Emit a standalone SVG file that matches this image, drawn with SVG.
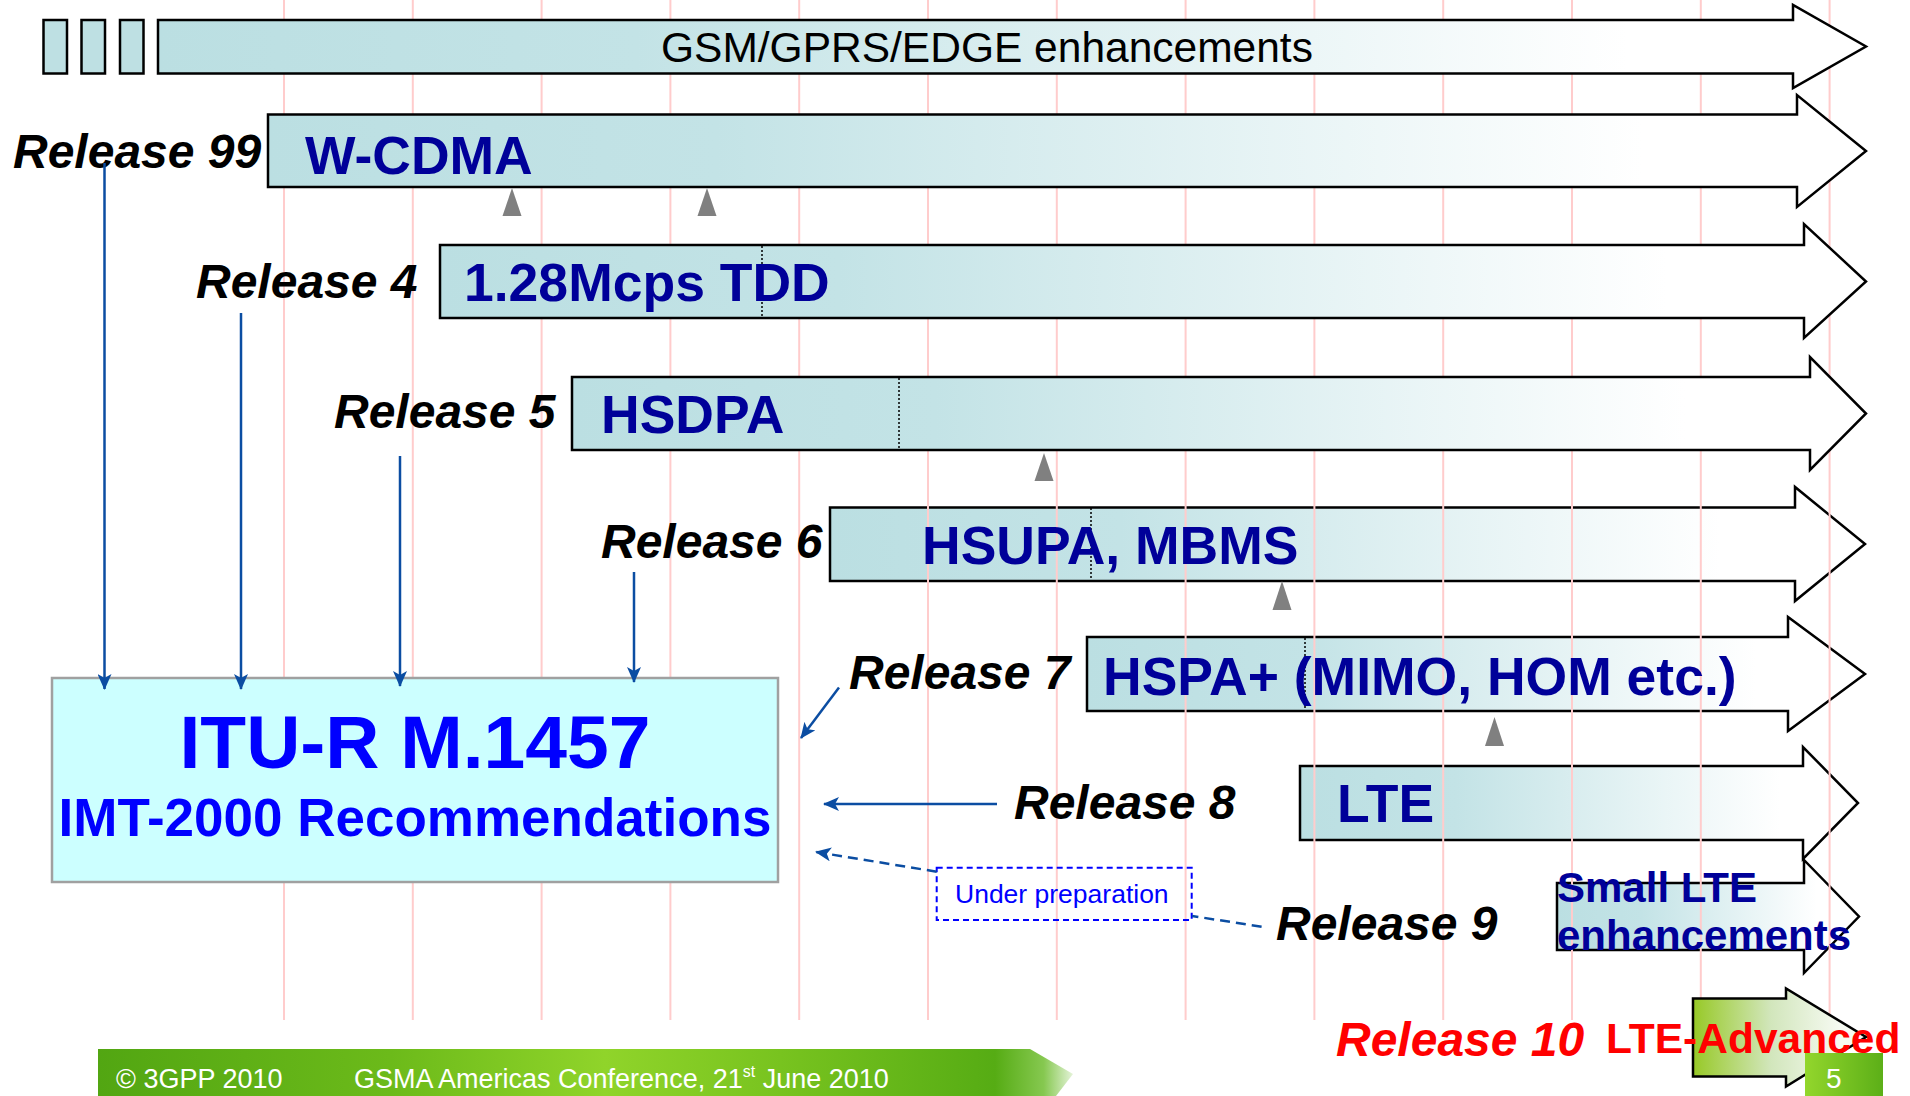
<svg xmlns="http://www.w3.org/2000/svg" width="1910" height="1096" viewBox="0 0 1910 1096">
  <defs>
    <linearGradient id="laneFill" x1="0" y1="0" x2="1" y2="0">
      <stop offset="0" stop-color="#BBDFE2"/>
      <stop offset="0.28" stop-color="#C3E3E6"/>
      <stop offset="0.86" stop-color="#FFFFFF"/>
      <stop offset="1" stop-color="#FFFFFF"/>
    </linearGradient>
    <linearGradient id="advFill" x1="0" y1="0" x2="1" y2="0">
      <stop offset="0" stop-color="#97C926"/>
      <stop offset="0.45" stop-color="#D2E6BC"/>
      <stop offset="0.85" stop-color="#F6FAF2"/>
    </linearGradient>
    <linearGradient id="footFill" x1="0" y1="0" x2="1" y2="0">
      <stop offset="0" stop-color="#52A612"/>
      <stop offset="0.3" stop-color="#6CBA1A"/>
      <stop offset="0.52" stop-color="#90D42A"/>
      <stop offset="0.7" stop-color="#78C31F"/>
      <stop offset="0.92" stop-color="#56AC14"/>
      <stop offset="0.97" stop-color="#86C850"/>
      <stop offset="1" stop-color="#E4F3D8"/>
    </linearGradient>
    <linearGradient id="pageFill" x1="0" y1="0" x2="1" y2="0">
      <stop offset="0" stop-color="#93D62C"/>
      <stop offset="1" stop-color="#5CAF18"/>
    </linearGradient>
    <marker id="head" viewBox="0 0 16 14" refX="15" refY="7" markerWidth="16" markerHeight="14" markerUnits="userSpaceOnUse" orient="auto">
      <path d="M0,0 L16,7 L0,14 L4,7 Z" fill="#0B4DA2"/>
    </marker>
    <style>
      .lane { fill: url(#laneFill); stroke: #000; stroke-width: 2.5; }
      .feat { font-family: "Liberation Sans", Arial, sans-serif; font-weight: bold; font-size: 53.5px; fill: #000099; }
      .small { font-size: 42px; }
      .rel { font-family: "Liberation Sans", Arial, sans-serif; font-weight: bold; font-style: italic; font-size: 48px; fill: #000; }
      .grid line { stroke: #FFCCCC; stroke-width: 2; }
      .tick { fill: #808080; }
      .conn { stroke: #0B4DA2; stroke-width: 2.5; fill: none; }
      .dash { stroke-dasharray: 10 6; }
      .split { stroke: #000; stroke-width: 1.5; stroke-dasharray: 2 2; }
      .foot { font-family: "Liberation Sans", Arial, sans-serif; font-size: 27px; fill: #fff; }
    </style>
  </defs>

  <rect width="1910" height="1096" fill="#fff"/>

  <!-- later release lanes: the timeline grid is laid over these shapes -->
  <g id="rel6">
    <polygon class="lane" points="830,507.5 1795,507.5 1795,487 1865,544 1795,601 1795,581 830,581"/>
    <line class="split" x1="1091" y1="508" x2="1091" y2="580"/>
  </g>
  <g id="rel7">
    <polygon class="lane" points="1087,637 1788,637 1788,617 1865,674 1788,731 1788,711 1087,711"/>
    <line class="split" x1="1305" y1="638" x2="1305" y2="710"/>
  </g>
  <g id="rel8">
    <polygon class="lane" points="1300,766 1803,766 1803,747 1858,803 1803,859 1803,840 1300,840"/>
  </g>
  <g id="rel9">
    <polygon class="lane" points="1557,883 1804,883 1804,860 1859,916.5 1804,973 1804,950 1557,950"/>
  </g>

  <!-- timeline grid -->
  <g class="grid" id="grid">
    <line x1="284" y1="0" x2="284" y2="1020"/>
    <line x1="412.8" y1="0" x2="412.8" y2="1020"/>
    <line x1="541.6" y1="0" x2="541.6" y2="1020"/>
    <line x1="670.4" y1="0" x2="670.4" y2="1020"/>
    <line x1="799.2" y1="0" x2="799.2" y2="1020"/>
    <line x1="928" y1="0" x2="928" y2="1020"/>
    <line x1="1056.8" y1="0" x2="1056.8" y2="1020"/>
    <line x1="1185.6" y1="0" x2="1185.6" y2="1020"/>
    <line x1="1314.4" y1="0" x2="1314.4" y2="1020"/>
    <line x1="1443.2" y1="0" x2="1443.2" y2="1020"/>
    <line x1="1572" y1="0" x2="1572" y2="1020"/>
    <line x1="1700.8" y1="0" x2="1700.8" y2="1020"/>
    <line x1="1829.6" y1="0" x2="1829.6" y2="1020"/>
  </g>

  <!-- feature names of the later lanes, above the grid -->
  <g id="rel6-text"><text class="feat" x="922" y="564">HSUPA, MBMS</text></g>
  <g id="rel7-text"><text class="feat" x="1103" y="695">HSPA+ (MIMO, HOM etc.)</text></g>
  <g id="rel8-text"><text class="feat" x="1337" y="822">LTE</text></g>
  <g id="rel9-text">
    <text class="feat small" x="1557" y="902">Small LTE</text>
    <text class="feat small" x="1557" y="950">enhancements</text>
  </g>

  <!-- GSM lane with the three earlier blocks -->
  <g id="gsm">
    <rect x="43.5" y="20" width="23.5" height="53.5" fill="#BEE0E3" stroke="#000" stroke-width="2.5"/>
    <rect x="81.5" y="20" width="23.5" height="53.5" fill="#BEE0E3" stroke="#000" stroke-width="2.5"/>
    <rect x="120" y="20" width="23.5" height="53.5" fill="#BEE0E3" stroke="#000" stroke-width="2.5"/>
    <polygon class="lane" points="158,20 1793,20 1793,5 1866,46.5 1793,88 1793,73.5 158,73.5"/>
    <text x="661" y="62" font-family="Liberation Sans, Arial, sans-serif" font-size="42.5" fill="#000">GSM/GPRS/EDGE enhancements</text>
  </g>

  <g id="rel99">
    <polygon class="lane" points="268,114.5 1797,114.5 1797,95 1866,151 1797,207 1797,187 268,187"/>
    <text class="feat" x="305" y="174">W-CDMA</text>
  </g>
  <g id="rel4">
    <polygon class="lane" points="440,245 1804,245 1804,224 1866,281.5 1804,338 1804,318 440,318"/>
    <line class="split" x1="762" y1="246" x2="762" y2="317"/>
    <text class="feat" x="464" y="301">1.28Mcps TDD</text>
  </g>
  <g id="rel5">
    <polygon class="lane" points="572,377 1810,377 1810,357 1866,413.5 1810,470 1810,450 572,450"/>
    <line class="split" x1="899" y1="378" x2="899" y2="449"/>
    <text class="feat" x="601" y="433">HSDPA</text>
  </g>

  <!-- completion markers -->
  <g id="ticks">
    <path class="tick" d="M502.5,216 L512,188 L521.5,216 Z"/>
    <path class="tick" d="M697.5,216 L707,188 L716.5,216 Z"/>
    <path class="tick" d="M1034.5,481 L1044,453 L1053.5,481 Z"/>
    <path class="tick" d="M1272.5,610 L1282,581 L1291.5,610 Z"/>
    <path class="tick" d="M1485,746 L1494.5,717 L1504,746 Z"/>
  </g>

  <!-- release labels -->
  <g id="labels">
    <text class="rel" x="13" y="168">Release 99</text>
    <text class="rel" x="196" y="298">Release 4</text>
    <text class="rel" x="334" y="428">Release 5</text>
    <text class="rel" x="601" y="558">Release 6</text>
    <text class="rel" x="849" y="689">Release 7</text>
    <text class="rel" x="1014" y="819">Release 8</text>
    <text class="rel" x="1276" y="940">Release 9</text>
    <text class="rel" x="1336" y="1056" style="fill:#FF0000">Release 10</text>
  </g>

  <g id="itu">
    <rect x="52" y="678" width="726" height="204" fill="#CCFFFF" stroke="#A0A0A0" stroke-width="2.5"/>
    <text x="415" y="768" text-anchor="middle" font-family="Liberation Sans, Arial, sans-serif" font-weight="bold" font-size="75" fill="#0000FF">ITU-R M.1457</text>
    <text x="415" y="836" text-anchor="middle" font-family="Liberation Sans, Arial, sans-serif" font-weight="bold" font-size="53" fill="#0000FF">IMT-2000 Recommendations</text>
  </g>

  <g id="note">
    <rect x="936.7" y="867.7" width="255" height="52.3" fill="none" stroke="#0000FF" stroke-width="2" stroke-dasharray="6 4"/>
    <text x="955" y="903" font-family="Liberation Sans, Arial, sans-serif" font-size="26.5" fill="#0000FF">Under preparation</text>
  </g>

  <!-- connectors to the ITU recommendation -->
  <g id="connectors">
    <path class="conn" d="M104.5,163 V689" marker-end="url(#head)"/>
    <path class="conn" d="M241,313 V689" marker-end="url(#head)"/>
    <path class="conn" d="M400,456 V686" marker-end="url(#head)"/>
    <path class="conn" d="M634,572 V682" marker-end="url(#head)"/>
    <path class="conn" d="M839,687.5 L801,738" marker-end="url(#head)"/>
    <path class="conn" d="M997,804 H824" marker-end="url(#head)"/>
    <path class="conn dash" d="M1261.6,926.7 L1192,916"/>
    <path class="conn dash" d="M936.7,871.7 L816,852" marker-end="url(#head)"/>
  </g>

  <g id="rel10">
    <polygon points="1693,998.5 1786,998.5 1786,988.5 1866,1037 1786,1086.5 1786,1076.5 1693,1076.5" fill="url(#advFill)" stroke="#000" stroke-width="2.5"/>
  </g>

  <!-- footer -->
  <g id="footer">
    <polygon points="98,1049 1030,1049 1073,1074 1056,1096 98,1096" fill="url(#footFill)"/>
    <text class="foot" x="116" y="1088">© 3GPP 2010</text>
    <text class="foot" x="354" y="1088">GSMA Americas Conference, 21<tspan font-size="16" dy="-11">st</tspan><tspan dy="11"> June 2010</tspan></text>
    <rect x="1805" y="1053" width="78" height="43" fill="url(#pageFill)"/>
    <text class="foot" x="1826" y="1088" style="font-size:28px">5</text>
  </g>

  <g id="rel10-text">
    <text x="1606" y="1053" font-family="Liberation Sans, Arial, sans-serif" font-weight="bold" font-size="42.5" fill="#FF0000">LTE-Advanced</text>
  </g>
</svg>
